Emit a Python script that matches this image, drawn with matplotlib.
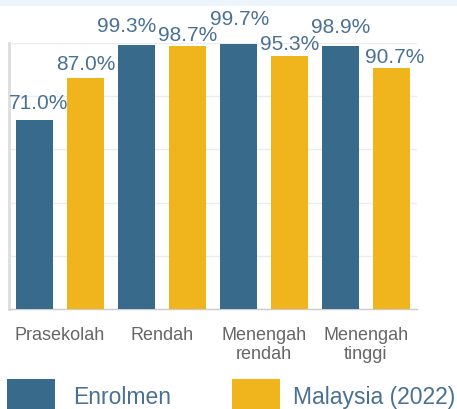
import matplotlib.pyplot as plt
from matplotlib.patches import Rectangle
import numpy as np

plt.rcParams['font.family'] = ['Liberation Sans', 'DejaVu Sans']

categories = ['Prasekolah', 'Rendah', 'Menengah\nrendah', 'Menengah\ntinggi']
enrolmen = [71.0, 99.3, 99.7, 98.9]
malaysia = [87.0, 98.7, 95.3, 90.7]
series_names = ['Enrolmen', 'Malaysia (2022)']

blue = '#386a8c'
yellow = '#f0b51c'
label_color = '#4a7093'

# small nudges (points) so the value labels don't collide
blue_offsets = [(3, 9), (-7, 10), (1, 14), (0, 10)]
yellow_offsets = [(0, 6), (0, 5), (0, 5), (2, 4)]

fig = plt.figure(figsize=(4.57, 4.10), dpi=100)
ax = fig.add_axes([9 / 457, 1 - 310 / 410, 408 / 457, 266 / 410])

x = np.arange(len(categories))
w = 0.36
b1 = ax.bar(x - 0.25, enrolmen, width=w, color=blue, zorder=3)
b2 = ax.bar(x + 0.25, malaysia, width=w, color=yellow, zorder=3)

for bars, vals, offs in [(b1, enrolmen, blue_offsets), (b2, malaysia, yellow_offsets)]:
    for bar, v, (dx, dy) in zip(bars, vals, offs):
        ax.annotate(f'{v:.1f}%', (bar.get_x() + bar.get_width() / 2, v),
                    xytext=(dx, dy), textcoords='offset points',
                    ha='center', va='baseline', fontsize=15,
                    color=label_color, annotation_clip=False)

ax.set_xlim(-0.5, 3.5)
ax.set_ylim(0, 100)
ax.set_yticks(np.arange(0, 101, 20))
ax.set_yticklabels([])
ax.tick_params(axis='y', length=0)
ax.grid(axis='y', color='#ececec', linewidth=1, zorder=0)
ax.set_xticks(x)
ax.set_xticklabels(categories, fontsize=13, color='#666666', linespacing=1.2)
ax.tick_params(axis='x', length=0, pad=12)

for s in ['top', 'right']:
    ax.spines[s].set_visible(False)
ax.spines['left'].set_color('#dddddd')
ax.spines['left'].set_linewidth(2)
ax.spines['bottom'].set_color('#cccccc')
ax.spines['bottom'].set_linewidth(1)

# light strip at the very top
fig.patches.append(Rectangle((0, 1 - 7 / 410), 1, 7 / 410, transform=fig.transFigure,
                             facecolor='#eef6fd', edgecolor='none'))

# legend squares, cut off at the bottom edge
for xs, col, xt, name in [(7, blue, 73, series_names[0]), (232, yellow, 293, series_names[1])]:
    fig.patches.append(Rectangle((xs / 457, -0.05), 48 / 457, 0.05 + 30 / 410,
                                 transform=fig.transFigure, facecolor=col, edgecolor='none'))
    fig.text(xt / 457, 6 / 410, name, fontsize=16.5, color=label_color,
             ha='left', va='baseline')

fig.savefig('out.png', dpi=100)
